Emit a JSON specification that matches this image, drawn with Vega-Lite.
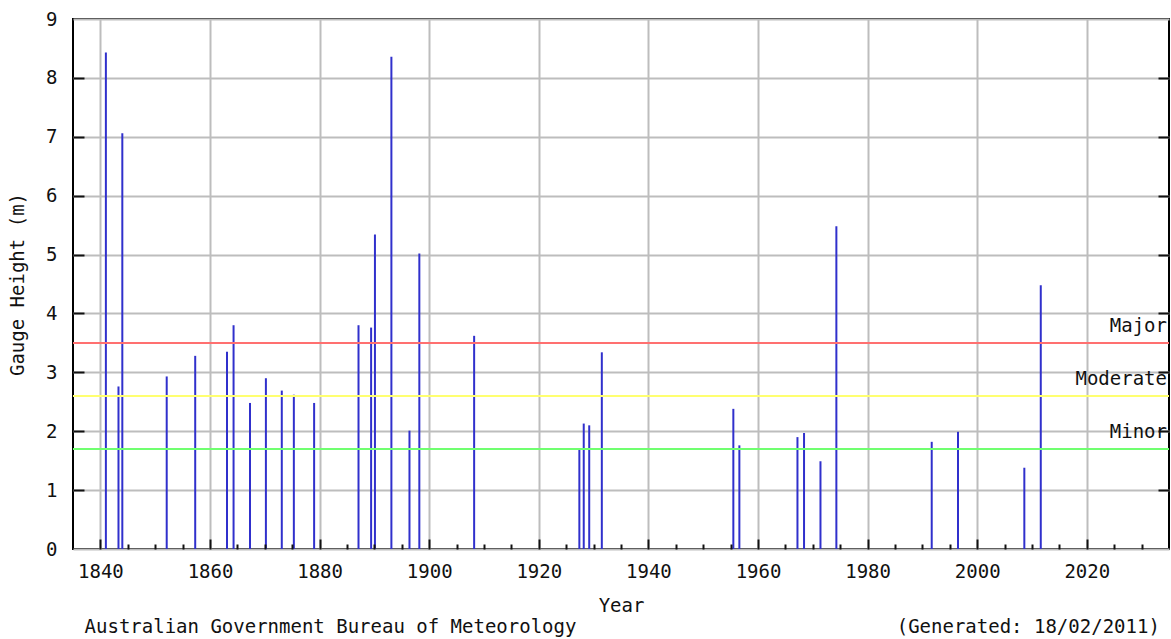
{
  "$schema": "https://vega.github.io/schema/vega-lite/v6.json",
  "autosize": {"type": "none"},
  "padding": {"left": 73, "top": 19, "right": 2, "bottom": 90},
  "width": 1096,
  "height": 530,
  "background": "#ffffff",
  "config": {
    "view": {"stroke": "#000000", "strokeWidth": 2},
    "font": "DejaVu Sans Mono",
    "axis": {
      "labelFont": "DejaVu Sans Mono",
      "titleFont": "DejaVu Sans Mono",
      "labelFontSize": 19,
      "titleFontSize": 19,
      "labelColor": "#111111",
      "titleColor": "#111111",
      "titleFontWeight": "normal",
      "gridColor": "#bdbdbd",
      "gridWidth": 2,
      "gridOpacity": 1,
      "domain": false
    }
  },
  "title": {
    "text": "Australian Government Bureau of Meteorology\u00a0\u00a0\u00a0\u00a0\u00a0\u00a0\u00a0\u00a0\u00a0\u00a0\u00a0\u00a0\u00a0\u00a0\u00a0\u00a0\u00a0\u00a0\u00a0\u00a0\u00a0\u00a0\u00a0\u00a0\u00a0\u00a0\u00a0\u00a0(Generated: 18/02/2011)",
    "orient": "bottom",
    "anchor": "start",
    "dx": 76,
    "offset": 3,
    "font": "DejaVu Sans Mono",
    "fontSize": 19,
    "fontWeight": "normal",
    "color": "#111111"
  },
  "datasets": {
    "floods": [
      {"year": 1841.0, "height": 8.43},
      {"year": 1843.3, "height": 2.76},
      {"year": 1844.0, "height": 7.06},
      {"year": 1852.1, "height": 2.93},
      {"year": 1857.3, "height": 3.28},
      {"year": 1863.1, "height": 3.35},
      {"year": 1864.3, "height": 3.80},
      {"year": 1867.3, "height": 2.48},
      {"year": 1870.2, "height": 2.90},
      {"year": 1873.1, "height": 2.69},
      {"year": 1875.3, "height": 2.62},
      {"year": 1879.0, "height": 2.48},
      {"year": 1887.1, "height": 3.80},
      {"year": 1889.4, "height": 3.76},
      {"year": 1890.1, "height": 5.34},
      {"year": 1893.1, "height": 8.36},
      {"year": 1896.4, "height": 2.01},
      {"year": 1898.2, "height": 5.02},
      {"year": 1908.2, "height": 3.62},
      {"year": 1927.4, "height": 1.69},
      {"year": 1928.2, "height": 2.13},
      {"year": 1929.2, "height": 2.10},
      {"year": 1931.5, "height": 3.34},
      {"year": 1955.5, "height": 2.38},
      {"year": 1956.6, "height": 1.76},
      {"year": 1967.2, "height": 1.90},
      {"year": 1968.4, "height": 1.97},
      {"year": 1971.4, "height": 1.49},
      {"year": 1974.3, "height": 5.48},
      {"year": 1991.7, "height": 1.82},
      {"year": 1996.5, "height": 1.99},
      {"year": 2008.6, "height": 1.38},
      {"year": 2011.6, "height": 4.48}
    ],
    "levels": [
      {"level": "Major", "value": 3.5},
      {"level": "Moderate", "value": 2.6},
      {"level": "Minor", "value": 1.7}
    ]
  },
  "resolve": {"axis": {"x": "independent", "y": "independent"}},
  "layer": [
    {
      "data": {"name": "floods"},
      "mark": {"type": "rule", "color": "#3030cc", "strokeWidth": 2},
      "encoding": {
        "x": {
          "field": "year",
          "type": "quantitative",
          "scale": {"domain": [1835, 2035], "nice": false, "zero": false},
          "axis": {
            "orient": "bottom",
            "title": "Year",
            "values": [1840, 1860, 1880, 1900, 1920, 1940, 1960, 1980, 2000, 2020],
            "format": "d",
            "ticks": false,
            "grid": true,
            "labelPadding": 13,
            "titlePadding": 15,
            "labelFlush": false,
            "labelOverlap": false,
            "zindex": 0
          }
        },
        "y": {
          "field": "height",
          "type": "quantitative",
          "scale": {"domain": [0, 9], "nice": false},
          "axis": {
            "orient": "left",
            "title": "Gauge Height (m)",
            "values": [0, 1, 2, 3, 4, 5, 6, 7, 8, 9],
            "ticks": false,
            "grid": true,
            "labelPadding": 16,
            "titlePadding": 18,
            "labelFlush": false,
            "labelOverlap": false,
            "zindex": 0
          }
        },
        "y2": {"datum": 0}
      }
    },
    {
      "data": {"name": "levels"},
      "mark": {"type": "rule", "strokeWidth": 2},
      "encoding": {
        "x": {
          "datum": 1835,
          "type": "quantitative",
          "axis": {
            "orient": "bottom",
            "values": [1845, 1850, 1855, 1865, 1870, 1875, 1885, 1890, 1895, 1905, 1910, 1915, 1925, 1930, 1935, 1945, 1950, 1955, 1965, 1970, 1975, 1985, 1990, 1995, 2005, 2010, 2015, 2025, 2030],
            "ticks": true,
            "tickSize": -5,
            "tickColor": "#111111",
            "tickWidth": 2,
            "labels": false,
            "grid": false,
            "title": null,
            "zindex": 2
          }
        },
        "x2": {"datum": 2035},
        "y": {
          "field": "value",
          "type": "quantitative",
          "axis": {
            "orient": "right",
            "values": [1, 2, 3, 4, 5, 6, 7, 8],
            "ticks": true,
            "tickSize": -11,
            "tickColor": "#111111",
            "tickWidth": 2,
            "labels": false,
            "grid": false,
            "title": null,
            "zindex": 2
          }
        },
        "color": {
          "field": "level",
          "type": "nominal",
          "scale": {"domain": ["Major", "Moderate", "Minor"], "range": ["#ff7070", "#ffff70", "#70ff70"]},
          "legend": null
        }
      }
    },
    {
      "data": {"name": "levels"},
      "mark": {"type": "text", "align": "right", "baseline": "alphabetic", "dy": -11, "dx": -2, "font": "DejaVu Sans Mono", "fontSize": 19, "color": "#111111"},
      "encoding": {
        "x": {
          "datum": 2035,
          "type": "quantitative",
          "axis": {
            "orient": "bottom",
            "values": [1840, 1860, 1880, 1900, 1920, 1940, 1960, 1980, 2000, 2020],
            "ticks": true,
            "tickSize": -10,
            "tickColor": "#111111",
            "tickWidth": 2,
            "labels": false,
            "grid": false,
            "title": null,
            "zindex": 2
          }
        },
        "y": {
          "field": "value",
          "type": "quantitative",
          "axis": {
            "orient": "left",
            "values": [1, 2, 3, 4, 5, 6, 7, 8],
            "ticks": true,
            "tickSize": -11,
            "tickColor": "#111111",
            "tickWidth": 2,
            "labels": false,
            "grid": false,
            "title": null,
            "zindex": 2
          }
        },
        "text": {"field": "level"}
      }
    }
  ]
}
